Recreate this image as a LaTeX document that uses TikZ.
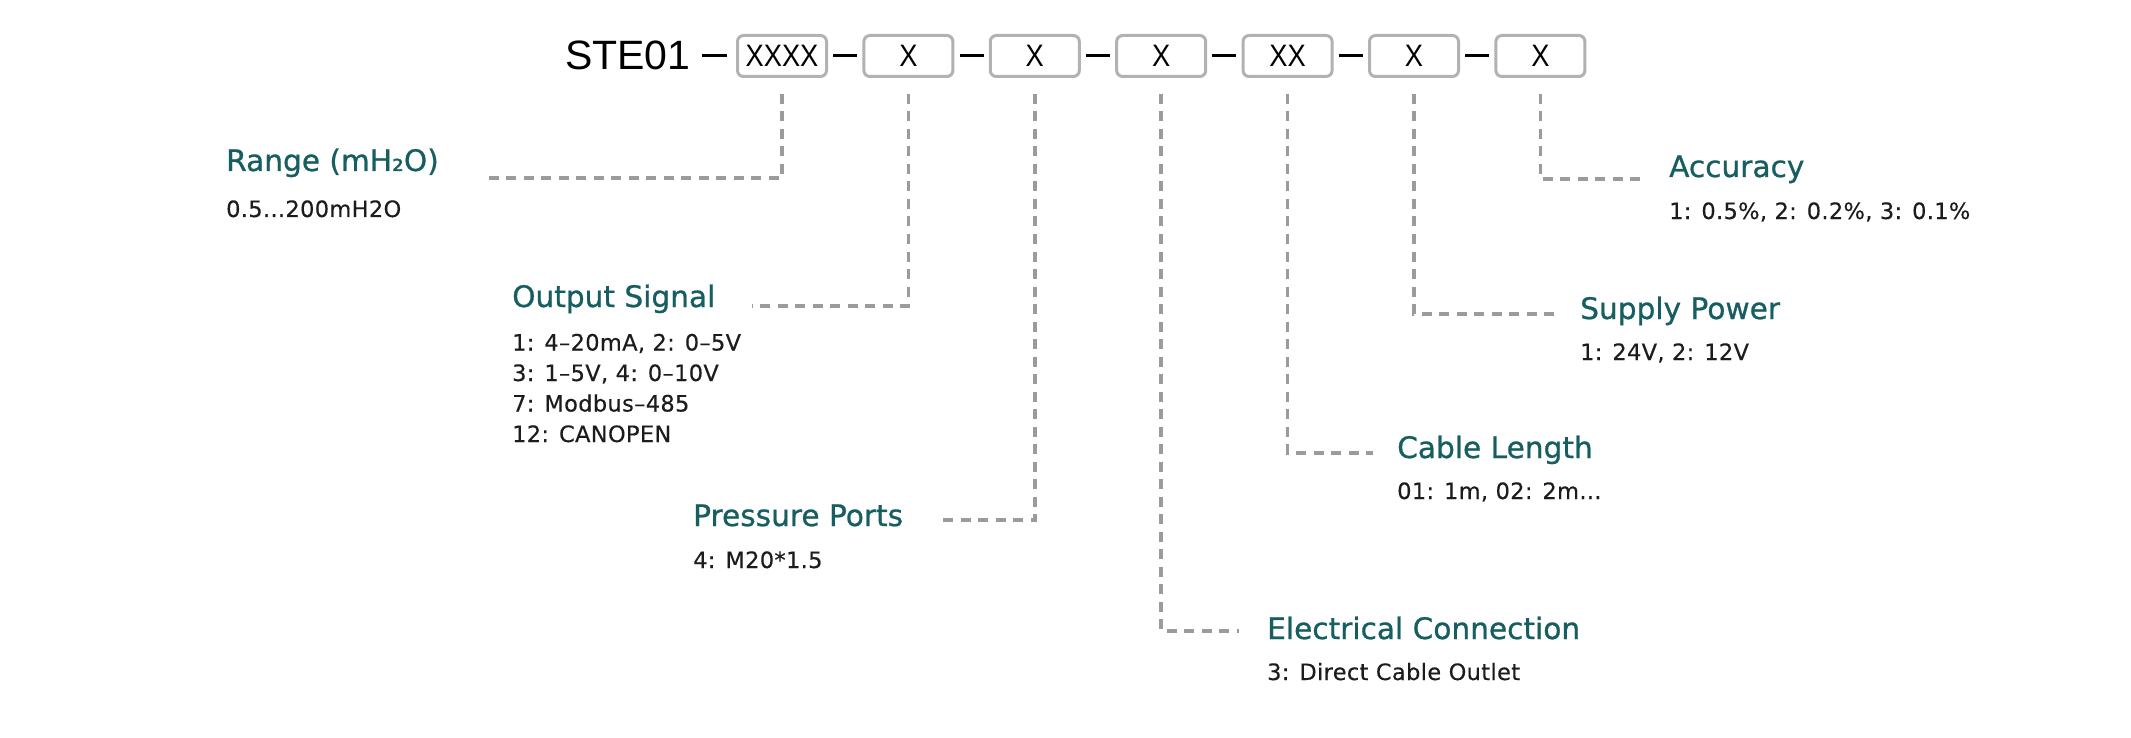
\documentclass[tikz,border=0pt]{standalone}
\usepackage{fontspec}
\usepackage{graphicx}
\setmainfont{DejaVu Sans}
\newfontfamily\codefont{Liberation Sans}
\newfontfamily\headfont[FakeBold=0.8]{DejaVu Sans}
\newfontfamily\bodyfont[FakeBold=0.35, LetterSpace=1.5]{DejaVu Sans}

\definecolor{titleteal}{HTML}{165E60}
\definecolor{bodyink}{HTML}{1C1C1C}
\definecolor{boxgray}{HTML}{B2B2B2}
\definecolor{conngray}{HTML}{9B9B9B}

\begin{document}
\begin{tikzpicture}[x=1pt, y=-1pt,
  codebox/.style={draw=boxgray, line width=3pt, rounded corners=6pt,
    minimum width=89pt, minimum height=41pt, inner sep=0pt,
    font=\codefont\fontsize{31}{31}\selectfont},
  joiner/.style={line width=3pt, black},
  conn/.style={draw=conngray, line width=3.5pt, dash pattern=on 10pt off 7.5pt},
  fieldtitle/.style={anchor=base west, inner sep=0pt, text=titleteal,
    font=\headfont\fontsize{29.6}{35}\selectfont},
  fielddetail/.style={anchor=base west, inner sep=0pt, text=bodyink,
    font=\bodyfont\fontsize{22.5}{30}\selectfont},
]
\useasboundingbox[fill=white] (0,0) rectangle (2131,738);

% model code row
\node[anchor=base west, inner sep=0pt, font=\codefont\fontsize{41}{41}\selectfont]
  (ste) at (565,69.5) {STE01};
\node[codebox] (b1) at (782,56)    {\scalebox{0.88}[1]{XXXX}};
\node[codebox] (b2) at (908.4,56)  {\scalebox{0.88}[1]{X}};
\node[codebox] (b3) at (1034.8,56) {\scalebox{0.88}[1]{X}};
\node[codebox] (b4) at (1161.2,56) {\scalebox{0.88}[1]{X}};
\node[codebox] (b5) at (1287.6,56) {\scalebox{0.88}[1]{XX}};
\node[codebox] (b6) at (1414,56)   {\scalebox{0.88}[1]{X}};
\node[codebox] (b7) at (1540.4,56) {\scalebox{0.88}[1]{X}};

\draw[joiner, shorten <=11pt, shorten >=9pt] (ste.east |- b1.west) -- (b1.west);
\foreach \a/\b in {b1/b2, b2/b3, b3/b4, b4/b5, b5/b6, b6/b7}
  \draw[joiner] ([xshift=5.2pt]\a.east) -- ([xshift=-5.2pt]\b.west);

% field descriptions
\node[fieldtitle] (t1) at (226,171) {Range (mH₂O)};
\node[fielddetail] (d1) at (226,217) {0.5...200mH2O};

\node[fieldtitle] (t2) at (512,307) {Output Signal};
\node[fielddetail] (d2a) at (512,350.5) {1: 4–20mA, 2: 0–5V};
\node[fielddetail] (d2b) at (512,381) {3: 1–5V, 4: 0–10V};
\node[fielddetail] (d2c) at (512,411.5) {7: Modbus–485};
\node[fielddetail] (d2d) at (512,442) {12: CANOPEN};

\node[fieldtitle] (t3) at (693,526) {Pressure Ports};
\node[fielddetail] (d3) at (693,568) {4: M20*1.5};

\node[fieldtitle] (t4) at (1267,639) {Electrical Connection};
\node[fielddetail] (d4) at (1267,680) {3: Direct Cable Outlet};

\node[fieldtitle] (t5) at (1397,458) {Cable Length};
\node[fielddetail] (d5) at (1397,499) {01: 1m, 02: 2m...};

\node[fieldtitle] (t6) at (1580,319) {Supply Power};
\node[fielddetail] (d6) at (1580,360) {1: 24V, 2: 12V};

\node[fieldtitle] (t7) at (1669,177) {Accuracy};
\node[fielddetail] (d7) at (1669,219) {1: 0.5\%, 2: 0.2\%, 3: 0.1\%};

% leader line ends
\coordinate (e1) at (489,178);
\coordinate (e2) at (752,306);
\coordinate (e3) at (938,520);
\coordinate (e4) at (1239,631);
\coordinate (e5) at (1373,453);
\coordinate (e6) at (1556,314);
\coordinate (e7) at (1642,179);

% dashed leaders from each code box
\foreach \n in {1,...,7}
  \draw[conn] ([yshift=-16pt]b\n.south) |- (e\n);
\end{tikzpicture}
\end{document}
